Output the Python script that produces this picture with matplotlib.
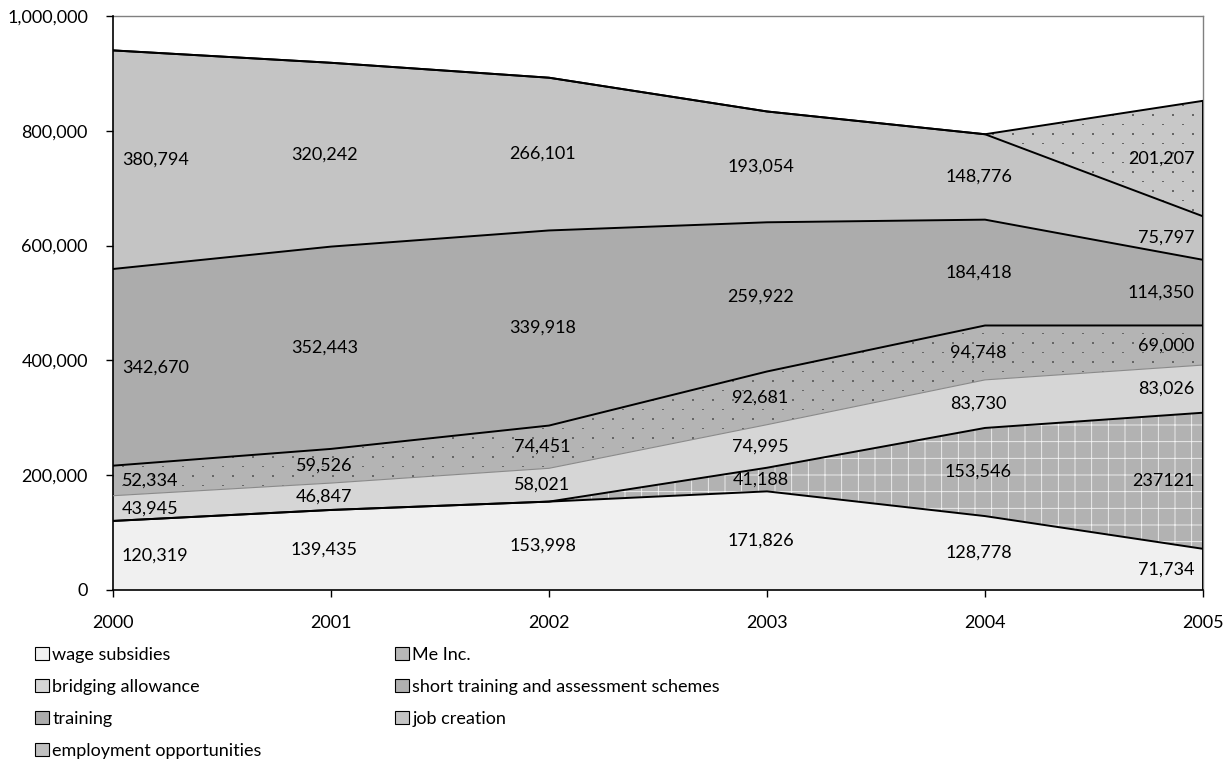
import matplotlib
matplotlib.use("Agg")
import matplotlib.pyplot as plt
from matplotlib.patches import Patch
from matplotlib.ticker import FuncFormatter
import numpy as np

plt.rcParams['font.family'] = ['Lato', 'DejaVu Sans']
plt.rcParams['hatch.linewidth'] = 0.6

# data
years = [2000, 2001, 2002, 2003, 2004, 2005]
series_names = ["wage subsidies", "Me Inc.", "bridging allowance",
                 "short training and assessment schemes", "training",
                 "job creation", "employment opportunities"]
wage_subsidies = [120319, 139435, 153998, 171826, 128778, 71734]
me_inc = [0, 0, 0, 41188, 153546, 237121]
bridging_allowance = [43945, 46847, 58021, 74995, 83730, 83026]
short_training = [52334, 59526, 74451, 92681, 94748, 69000]
training = [342670, 352443, 339918, 259922, 184418, 114350]
job_creation = [380794, 320242, 266101, 193054, 148776, 75797]
employment_opps = [0, 0, 0, 0, 0, 201207]
# the 2005 Me Inc. label is printed without a comma
me_inc_labels = [None, None, None, "41,188", "153,546", "237121"]

all_series = [wage_subsidies, me_inc, bridging_allowance, short_training,
              training, job_creation, employment_opps]

# styles
faces = ["#f0f0f0", "#b2b2b2", "#d6d6d6", "#b4b4b4", "#acacac", "#c4c4c4", "#c8c8c8"]
hatches = [None, "+", None, None, None, None, None]
dotted = [False, False, False, True, False, False, True]
top_cols = ["black", "black", "#8a8a8a", "black", "black", "black", "black"]

fig = plt.figure(figsize=(12.31, 7.6), dpi=100)
ax = fig.add_axes([113 / 1231, 1 - 590 / 760, 1090 / 1231, 574 / 760])

x = np.array(years)
base = np.zeros(len(years))
bounds = []
polys = []
for i, vals in enumerate(all_series):
    top = base + np.array(vals)
    if hatches[i]:
        p = ax.fill_between(x, base, top, facecolor=faces[i], hatch=hatches[i],
                            edgecolor="#f4f4f4", linewidth=0, zorder=1)
    else:
        p = ax.fill_between(x, base, top, facecolor=faces[i], linewidth=0, zorder=1)
    bounds.append((base.copy(), top.copy()))
    polys.append(p)
    base = top

# dotted texture (staggered grid in axes fraction), clipped to the area
gx, gy = 20 / 1090, 9.5 / 574
rows = np.arange(0, 1 + gy, gy)
tex_x, tex_y, tex_s = [], [], []
for r, yy in enumerate(rows):
    off = (r % 2) * gx / 2
    cols = np.arange(off, 1 + gx, gx)
    tex_x.extend(cols)
    tex_y.extend([yy] * len(cols))
    tex_s.extend([3.6 if (r % 2) == 0 else 2.0] * len(cols))
for i in range(len(all_series)):
    if dotted[i]:
        sc = ax.scatter(tex_x, tex_y, s=tex_s, color="#666666", marker="s",
                        linewidths=0, transform=ax.transAxes, zorder=2)
        sc.set_clip_path(polys[i].get_paths()[0], polys[i].get_transform())

for i, (lo, hi) in enumerate(bounds):
    lw = 1.4 if top_cols[i] == "black" else 0.8
    ax.plot(x, hi, color=top_cols[i], lw=lw, zorder=3)
ax.plot([years[-1], years[-1]], [0, base[-1]], color="black", lw=1.4, zorder=3)

# value labels
for i, vals in enumerate(all_series):
    lo, hi = bounds[i]
    for j, v in enumerate(vals):
        if v == 0:
            continue
        txt = f"{v:,}"
        if i == 1:
            txt = me_inc_labels[j]
        y = (lo[j] + hi[j]) / 2
        if j == 0:
            ax.text(years[j] + 0.04, y, txt, ha="left", va="center", fontsize=13, zorder=4)
        elif j == len(years) - 1:
            ax.text(years[j] - 0.04, y, txt, ha="right", va="center", fontsize=13, zorder=4)
        else:
            ax.text(years[j] - 0.03, y, txt, ha="center", va="center", fontsize=13, zorder=4)

ax.set_xlim(2000, 2005)
ax.set_ylim(0, 1000000)
ax.set_xticks(years)
ax.set_xticklabels([str(y) for y in years])
ax.set_yticks(range(0, 1000001, 200000))
ax.yaxis.set_major_formatter(FuncFormatter(lambda v, p: f"{int(v):,}"))
ax.tick_params(axis="both", direction="out", length=5, width=1, labelsize=13)
ax.tick_params(axis="y", pad=13)
ax.tick_params(axis="x", pad=13)
for s in ["left", "bottom"]:
    ax.spines[s].set_color("black")
    ax.spines[s].set_linewidth(1.2)
for s in ["top", "right"]:
    ax.spines[s].set_color("#808080")
    ax.spines[s].set_linewidth(1.0)
    ax.spines[s].set_zorder(0.5)

legend_faces = ["#f0f0f0", "#b8b8b8", "#d6d6d6", "#b0b0b0", "#acacac", "#c4c4c4", "#c0c0c0"]
handles = [Patch(facecolor=legend_faces[i], edgecolor="black", linewidth=0.8, label=name)
           for i, name in enumerate(series_names)]

leg_kw = dict(frameon=False, fontsize=13, handlelength=0.75, handleheight=0.75,
              handletextpad=0.2, labelspacing=0.88, borderpad=0, borderaxespad=0,
              loc="upper left")
col1 = [handles[0], handles[2], handles[4], handles[6]]
col2 = [handles[1], handles[3], handles[5]]
fig.legend(handles=col1, bbox_to_anchor=(35 / 1231, 1 - 647 / 760), **leg_kw)
fig.legend(handles=col2, bbox_to_anchor=(395 / 1231, 1 - 647 / 760), **leg_kw)

fig.savefig("out.png", dpi=100)
